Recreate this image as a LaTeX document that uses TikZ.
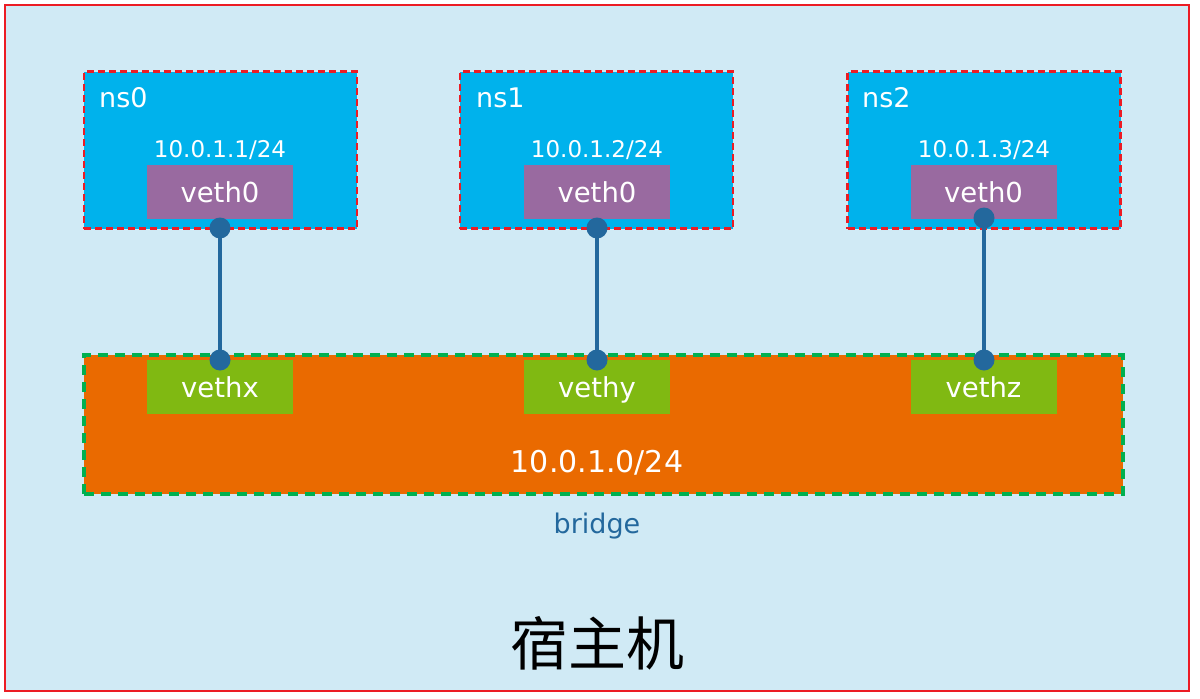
\documentclass[tikz,border=0pt]{standalone}
\usepackage{fontspec}
\setmainfont{DejaVu Sans}
\newfontfamily\cjk{Noto Sans CJK SC}
\definecolor{hostbg}{RGB}{208,234,245}
\definecolor{nsfill}{RGB}{0,178,236}
\definecolor{vethpurple}{RGB}{153,106,160}
\definecolor{bridgeorange}{RGB}{234,106,0}
\definecolor{vethgreen}{RGB}{128,185,18}
\definecolor{dashgreen}{RGB}{0,176,80}
\definecolor{linkblue}{RGB}{35,104,157}
\definecolor{hostred}{RGB}{236,28,36}
\tikzset{
  nsbox/.style={draw=hostred, fill=nsfill, line width=2.5pt, dash pattern=on 7pt off 4pt,
    minimum width=273pt, minimum height=157pt, inner sep=0pt},
  vethbox/.style={fill=vethpurple, text=white, minimum width=146pt, minimum height=54pt,
    inner sep=0pt, text height=21pt, text depth=0pt, font=\fontsize{27.5}{32}\selectfont},
  brbox/.style={fill=vethgreen, text=white, minimum width=146pt, minimum height=54pt,
    inner sep=0pt, text height=21pt, text depth=0pt, font=\fontsize{27.5}{32}\selectfont},
  nslabel/.style={text=white, anchor=base west, inner sep=0pt, font=\fontsize{27}{32}\selectfont},
  iplabel/.style={text=white, anchor=base, inner sep=0pt, font=\fontsize{23}{27}\selectfont},
  dot/.style={circle, fill=linkblue, minimum size=21pt, inner sep=0pt},
  link/.style={draw=linkblue, line width=3.5pt}
}
\begin{document}
\begin{tikzpicture}[x=1pt,y=-1pt]
\useasboundingbox (0,0) rectangle (1200,699);
\fill[white] (0,0) rectangle (1200,699);
\draw[hostred, line width=2.5pt, fill=hostbg] (5,5) rectangle (1189,691);

% namespaces
\node[nsbox] (ns0) at (220.5,150) {};
\node[nsbox] (ns1) at (596.5,150) {};
\node[nsbox] (ns2) at (984,150) {};
\node[nslabel] (ns0t) at (99,107) {ns0};
\node[nslabel] (ns1t) at (476,107) {ns1};
\node[nslabel] (ns2t) at (862,107) {ns2};
\node[iplabel] (ip0) at (220,157) {10.0.1.1/24};
\node[iplabel] (ip1) at (597,157) {10.0.1.2/24};
\node[iplabel] (ip2) at (984,157) {10.0.1.3/24};
\node[vethbox] (v0) at (220,192) {veth0};
\node[vethbox] (v1) at (597,192) {veth0};
\node[vethbox] (v2) at (983.5,192) {veth0};

% bridge
\node[fill=bridgeorange, draw=dashgreen, line width=3.5pt, dash pattern=on 10pt off 7pt,
  minimum width=1039pt, minimum height=139pt, inner sep=0pt] (br) at (603.5,424.5) {};
\node[brbox] (vx) at (220,387) {vethx};
\node[brbox] (vy) at (597,387) {vethy};
\node[brbox] (vz) at (983.5,387) {vethz};
\node[text=white, anchor=base, inner sep=0pt, font=\fontsize{30}{35}\selectfont] (brip) at (597,472) {10.0.1.0/24};
\node[text=linkblue, anchor=base, inner sep=0pt, font=\fontsize{27}{32}\selectfont] (brl) at (597,533) {bridge};
\node[anchor=center, inner sep=0pt, font=\cjk\fontsize{58}{64}\selectfont] (host) at (597,643) {宿主机};

% links
\node[dot] (d0a) at (220,228) {};
\node[dot] (d1a) at (597,228) {};
\node[dot] (d2a) at (984,218) {};
\node[dot] (d0b) at (220,360) {};
\node[dot] (d1b) at (597,360) {};
\node[dot] (d2b) at (984,360) {};
\draw[link] (d0a.center) -- (d0b.center);
\draw[link] (d1a.center) -- (d1b.center);
\draw[link] (d2a.center) -- (d2b.center);
\end{tikzpicture}
\end{document}
